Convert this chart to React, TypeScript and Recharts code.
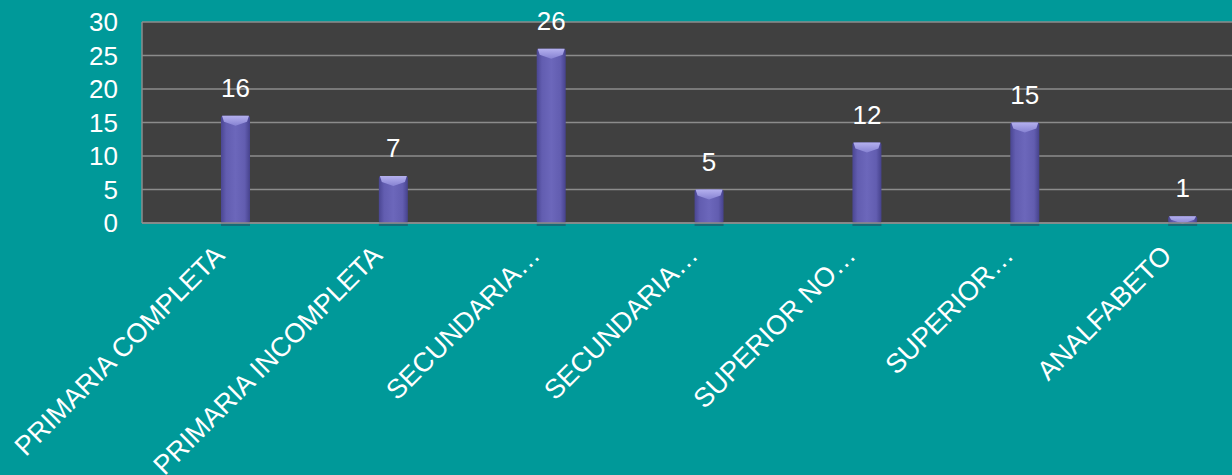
import React from 'react'
import { Bar, BarChart, CartesianGrid, LabelList, XAxis, YAxis } from 'recharts'

// categories as shown on the axis (PowerPoint truncated the long ones)
const categories = [
  'PRIMARIA COMPLETA',
  'PRIMARIA INCOMPLETA',
  'SECUNDARIA…',
  'SECUNDARIA…',
  'SUPERIOR NO…',
  'SUPERIOR…',
  'ANALFABETO',
]
const counts = [16, 7, 26, 5, 12, 15, 1]
const yTicks = [0, 5, 10, 15, 20, 25, 30]

const data = categories.map((name, i) => ({ key: `c${i}`, name, value: counts[i] }))

const FONT = '"Liberation Sans", Arial, sans-serif'
const FS = 26

function BevelBar(props: any) {
  const { x, y, width, height } = props
  if (!height || height <= 0) return null
  const w = width
  const b = Math.min(6, height / 2)
  return (
    <g>
      <rect x={x} y={y + height - 1} width={w} height={4} fill="#2a3f5a" opacity={0.5} />
      <rect x={x} y={y} width={w} height={height} rx={2} fill="url(#barBody)" />
      <polygon
        points={`${x + 1},${y} ${x + w - 1},${y} ${x + w - 3},${y + b} ${x + w / 2},${y + b + 4} ${x + 3},${y + b}`}
        fill="url(#barTop)"
      />
    </g>
  )
}

function AngledTick(props: any) {
  const { x, y, payload } = props
  const ax = x - 10
  const ay = y + 26
  return (
    <text
      x={ax}
      y={ay}
      transform={`rotate(-45, ${ax}, ${ay})`}
      textAnchor="end"
      fill="#ffffff"
      fontSize={27}
      fontFamily={FONT}
    >
      {categories[Number(String(payload.value).slice(1))]}
    </text>
  )
}

export default function App() {
  return (
    <div style={{ position: 'fixed', left: 0, top: 0, width: 1232, height: 475, overflow: 'hidden', background: '#009999' }}>
      <BarChart
        width={1262}
        height={475}
        data={data}
        margin={{ top: 22, right: 0, bottom: 0, left: 0 }}
        barCategoryGap={0}
      >
        <defs>
          <linearGradient id="barBody" x1="0" y1="0" x2="1" y2="0">
            <stop offset="0%" stopColor="#4a4692" />
            <stop offset="18%" stopColor="#625db0" />
            <stop offset="50%" stopColor="#6c67bb" />
            <stop offset="82%" stopColor="#625db0" />
            <stop offset="100%" stopColor="#46428c" />
          </linearGradient>
          <linearGradient id="barTop" x1="0" y1="0" x2="0" y2="1">
            <stop offset="0%" stopColor="#b4b0ee" />
            <stop offset="100%" stopColor="#8682d2" />
          </linearGradient>
        </defs>
        <CartesianGrid vertical={false} fill="#404040" stroke="#8c8c8c" strokeWidth={1.5} horizontalValues={yTicks} />
        <XAxis
          dataKey="key"
          interval={0}
          height={252}
          padding={{ left: 15, right: 0 }}
          tickLine={false}
          axisLine={{ stroke: '#8c8c8c', strokeWidth: 1.5 }}
          tick={<AngledTick />}
        />
        <YAxis
          domain={[0, 30]}
          ticks={yTicks}
          width={142}
          tickLine={false}
          tickSize={0}
          tickMargin={24}
          axisLine={{ stroke: '#8c8c8c', strokeWidth: 1.5 }}
          tick={{ fill: '#ffffff', fontSize: FS, fontFamily: FONT }}
          interval={0}
        />
        <Bar dataKey="value" barSize={29} shape={<BevelBar />} isAnimationActive={false}>
          <LabelList dataKey="value" position="top" offset={19} fill="#ffffff" fontSize={FS} fontFamily={FONT} />
        </Bar>
      </BarChart>
    </div>
  )
}
